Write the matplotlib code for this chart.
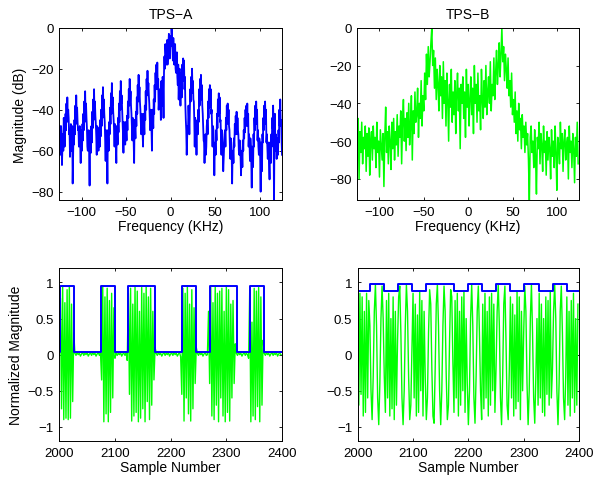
import numpy as np
import matplotlib
matplotlib.use("Agg")
import matplotlib.pyplot as plt

plt.rcParams['font.family'] = ['Liberation Sans', 'DejaVu Sans']

# ---------------- data ----------------
# TPS-A spectrum (dB): values at whole kHz, -125 ... 125
freq_a_start, freq_a_stop = -125, 125
spec_a = [
    -55, -62,
    -48, -67, -52, -44, -58, -42, -37, -34, -40, -52, -63, -47,
    -55, -76, -50, -45, -38, -33, -39, -50, -58, -48,
    -66, -53, -47, -42, -36, -31, -37, -49, -60, -50,
    -77, -55, -48, -41, -35, -30, -36, -47, -62, -49,
    -60, -52, -45, -40, -33, -29, -35, -46, -65, -52,
    -76, -55, -46, -39, -32, -27, -34, -45, -58, -50,
    -66, -51, -44, -37, -31, -26, -33, -44, -61, -48,
    -57, -50, -43, -36, -30, -25, -31, -42, -55, -47,
    -66, -49, -41, -34, -28, -23, -29, -40, -52, -45,
    -58, -46, -38, -31, -25, -21, -27, -37, -50, -42,
    -60, -44, -35, -28, -22, -18, -17, -25, -36, -30,
    -45, -33, -24, -44, -14, -8, -18, -6, -12, -3,
    -15, -4, 0, -10, -5, -18, -8, -22, -12, -28,
    -35, -20, -38, -26, -18, -15, -16, -24, -45, -62,
    -48, -38, -52, -30, -24, -20, -26, -36, -58, -50,
    -62, -45, -40, -30, -25, -23, -28, -42, -55, -66,
    -52, -58, -45, -36, -30, -28, -30, -40, -58, -50,
    -72, -56, -50, -42, -35, -32, -34, -45, -62, -55,
    -70, -58, -50, -44, -38, -37, -40, -50, -64, -56,
    -76, -60, -54, -47, -43, -41, -44, -52, -62, -58,
    -72, -60, -55, -50, -44, -40, -38, -37, -42, -52,
    -65, -58, -78, -62, -52, -44, -38, -36, -40, -50,
    -62, -56, -80, -60, -52, -44, -38, -36, -40, -52,
    -64, -58, -74, -60, -52, -44, -38, -86, -42, -52,
    -64, -56, -50, -40, -35, -45, -62,
]
# TPS-A spectrum (dB): values at half kHz, -124.5 ... 124.5
spec_a_half = [
    -48, -56, -54, -58, -60, -49, -52, -50, -46, -45, -44, -50, -55, -60,
    -48, -62, -57, -52, -47, -44, -46, -49, -54, -57,
    -50, -60, -55, -50, -46, -43, -44, -58, -52, -60,
    -52, -61, -56, -49, -45, -42, -43, -53, -48, -56,
    -49, -58, -53, -48, -44, -40, -42, -55, -50, -60,
    -50, -60, -52, -47, -42, -38, -41, -50, -47, -57,
    -48, -57, -51, -46, -40, -37, -39, -52, -46, -54,
    -46, -55, -50, -44, -38, -36, -38, -48, -44, -57,
    -45, -54, -48, -42, -36, -34, -36, -46, -42, -52,
    -42, -52, -45, -40, -33, -31, -33, -44, -40, -50,
    -40, -49, -42, -36, -30, -27, -30, -40, -36, -34,
    -26, -38, -30, -22, -20, -12, -16, -18, -8, -11,
    -10, -9, -4, -16, -12, -10, -20, -14, -24, -18,
    -26, -30, -22, -34, -26, -24, -30, -38, -50, -54,
    -50, -44, -42, -36, -32, -31, -35, -45, -44, -52,
    -50, -52, -46, -38, -34, -35, -38, -48, -56, -58,
    -62, -48, -52, -44, -39, -38, -42, -50, -48, -58,
    -60, -62, -55, -49, -43, -42, -46, -54, -50, -60,
    -64, -52, -58, -50, -46, -47, -48, -58, -54, -62,
    -62, -66, -58, -52, -50, -52, -50, -60, -55, -64,
    -62, -68, -60, -54, -51, -48, -46, -48, -58, -56,
    -54, -66, -58, -68, -58, -50, -47, -46, -55, -58,
    -54, -64, -56, -70, -56, -50, -46, -47, -56, -58,
    -56, -66, -56, -66, -58, -49, -48, -55, -60, -56,
    -54, -62, -56, -48, -46, -55,
]

# TPS-B spectrum (dB), frequencies -125 ... 124 kHz, 1 kHz step
freq_b_start, freq_b_stop = -125, 124
spec_b = [
    -62, -48, -80, -55, -66, -50, -72, -58, -64, -52,
    -76, -56, -68, -53, -78, -60, -55, -70, -52, -64,
    -58, -74, -50, -66, -60, -79, -54, -62, -70, -56,
    -84, -58, -42, -66, -55, -72, -52, -60, -75, -50,
    -64, -48, -70, -55, -62, -46, -68, -52, -58, -44,
    -72, -50, -38, -60, -48, -65, -45, -58, -40, -62,
    -52, -36, -70, -44, -56, -34, -50, -46, -32, -58,
    -40, -48, -28, -52, -36, -44, -24, -38, -14, -30,
    -10, -26, -18, -8, 0, -20, -12, -32, -16, -38,
    -22, -30, -44, -20, -36, -26, -48, -18, -40, -28,
    -52, -24, -38, -60, -30, -42, -22, -50, -34, -46,
    -28, -56, -36, -24, -44, -32, -64, -30, -40, -26,
    -48, -34, -58, -22, -42, -30, -52, -38, -26, -46,
    -32, -56, -20, -40, -30, -50, -24, -44, -36, -54,
    -22, -38, -48, -28, -42, -20, -46, -34, -26, -40,
    -18, -44, -30, -36, -16, -38, -24, -12, -30, -20,
    -8, -26, -14, 0, -18, -10, -28, -14, -22, -32,
    -16, -36, -28, -42, -24, -46, -38, -50, -34, -56,
    -44, -60, -40, -54, -48, -64, -46, -58, -52, -66,
    -50, -62, -56, -70, -92, -58, -52, -66, -60, -74,
    -54, -68, -88, -58, -64, -50, -72, -56, -62, -76,
    -52, -66, -60, -78, -55, -70, -58, -64, -80, -54,
    -68, -60, -74, -52, -66, -86, -58, -62, -72, -50,
    -64, -56, -76, -60, -54, -70, -62, -58, -80, -52,
    -66, -60, -74, -56, -64, -82, -58, -68, -50, -72,
]

# Time-domain (samples 2000 ... 2398, every 2nd sample)
sample_start, sample_step = 2000, 2
real_a = [
    0.0,
    0.78, -0.75, 0.95, -0.9, 0.72, -0.88, 0.9, -0.9, 0.95, -0.88, 0.7, -0.65, 0.3,
    0.02, -0.01, 0.03, 0.0, 0.02, -0.02, 0.01, 0.03, -0.01, 0.02, 0.0, 0.03,
    -0.02, 0.01, 0.02, -0.01, 0.03, 0.0, 0.02, -0.02, 0.01, 0.03, -0.01, 0.02,
    -0.35, 0.95, -0.93, 0.8, -0.82, 0.92, -0.93, 0.75, -0.8, 0.85, -0.6, 0.65,
    -0.05, 0.03, -0.01, 0.02, 0.0, 0.03, -0.02, 0.01, 0.02, -0.01, 0.03, -0.08,
    0.85, -0.55, 0.92, -0.92, 0.7, -0.85, 0.95, -0.8, 0.88, -0.93, 0.6, -0.88, 0.93,
    -0.75, 0.85, -0.93, 0.95, -0.65, 0.8, -0.9, 0.92, -0.7, 0.6, -0.35, 0.1,
    0.02, -0.01, 0.03, 0.0, 0.02, -0.02, 0.01, 0.03, -0.01, 0.02, 0.0, 0.03,
    -0.02, 0.01, 0.02, -0.01, 0.03, 0.0, 0.02, -0.02, 0.01, 0.03, -0.03,
    -0.55, 0.92, -0.92, 0.85, -0.6, 0.95, -0.82, 0.7, -0.92, 0.9, -0.75, 0.65, -0.4, 0.1,
    0.02, -0.01, 0.03, 0.0, 0.02, -0.02, 0.01, 0.03, -0.01, 0.0,
    0.6, -0.4, 0.93, -0.85, 0.72, -0.9, 0.95, -0.7, 0.85, -0.93, 0.88, -0.6, 0.92,
    -0.85, 0.6, -0.93, 0.95, -0.8, 0.9, -0.92, 0.7, -0.6, 0.75, -0.4, 0.15,
    0.02, -0.01, 0.03, 0.0, 0.02, -0.02, 0.01, 0.03, -0.01, 0.02, 0.0, -0.05,
    0.9, -0.93, 0.45, -0.85, 0.92, -0.9, 0.88, -0.72, 0.93, -0.93, 0.8, -0.7, 0.2,
    0.02, -0.01, 0.03, 0.0, 0.02, -0.02, 0.01, 0.03, -0.01, 0.02, 0.0, 0.03,
    -0.02, 0.01, 0.02, 0.0,
]
real_b = [
    0.7, -0.7, 0.85, -0.55, 0.8, -0.85, 0.6, -0.8, 0.85, -0.6, 0.75,
    0.4, -0.5, -0.9, -0.3, 0.6, 0.97, 0.4, -0.6, -0.97, -0.4, 0.5, 0.95, 0.5, -0.3,
    -0.8, 0.75, -0.6, 0.85, -0.85, 0.5, -0.75, 0.8, -0.9, 0.6, -0.7,
    0.2, 0.8, 0.95, 0.3, -0.6, -0.97, -0.5, 0.4, 0.97, 0.6, -0.3, -0.9, -0.7, 0.1,
    0.85, -0.6, 0.7, -0.85, 0.55, -0.8, 0.88, -0.5, 0.75, -0.85, 0.6,
    -0.3, -0.9, -0.6, 0.3, 0.9, 0.7, -0.2, -0.85, -0.95, -0.2, 0.7, 0.97, 0.4, -0.5,
    -0.97, -0.5, 0.4, 0.95, 0.6, -0.3, -0.9, -0.7, 0.2, 0.9, 0.8, -0.1, -0.8,
    0.75, -0.6, 0.85, -0.85, 0.6, -0.7, 0.8, -0.5, 0.88, -0.8, 0.5,
    -0.4, -0.97, -0.5, 0.5, 0.97, 0.4, -0.6, -0.95, -0.3, 0.6, 0.95, 0.3, -0.5, -0.9,
    0.7, -0.75, 0.85, -0.6, 0.6, -0.85, 0.8, -0.7, 0.85, -0.5, 0.7, -0.8,
    -0.2, 0.6, 0.97, 0.4, -0.6, -0.97, -0.3, 0.7, 0.95, 0.2, -0.7, -0.9, -0.2,
    0.8, -0.6, 0.7, -0.85, 0.55, -0.75, 0.88, -0.65, 0.8, -0.9, 0.6, -0.5,
    0.3, 0.95, 0.6, -0.4, -0.97, -0.5, 0.5, 0.97, 0.3, -0.6, -0.95, -0.3, 0.5,
    -0.7, 0.85, -0.6, 0.7, -0.8, 0.5, -0.85, 0.8, -0.55, 0.75, -0.7, 0.88, -0.6,
    -0.2, 0.6, 0.97, 0.5, -0.5, -0.97, -0.4, 0.6, 0.95, 0.3, -0.6, -0.9, -0.3,
    0.8, -0.7, 0.6, -0.85, 0.75, -0.6, 0.85, -0.8, 0.5, -0.7, 0.7,
]

# Envelope (normalized magnitude) per symbol
sym_start_a, sym_len_a = 1977.65, 24.35
bits_a = [0, 1, 0, 0, 1, 0, 1, 1, 0, 0, 1, 0, 1, 1, 0, 1, 0, 0]
env_levels_a = [0.03, 0.95]
sym_start_b, sym_len_b = 1996.6, 25.4
bits_b = [0, 1, 0, 1, 0, 1, 1, 0, 1, 0, 1, 0, 1, 0, 1, 0]
env_levels_b = [0.88, 0.98]

titles = ["TPS\u2212A", "TPS\u2212B"]

# ---------------- figure ----------------
BLUE = (0, 0, 1)
GREEN = (0, 1, 0)
FS_TICK = 9.5
FS_LAB = 10

fig = plt.figure(figsize=(5.96, 4.81), dpi=100)
ax_tl = fig.add_axes([0.0995, 0.5815, 0.3737, 0.3588])
ax_tr = fig.add_axes([0.5995, 0.5815, 0.3720, 0.3588])
ax_bl = fig.add_axes([0.0995, 0.0805, 0.3737, 0.3602])
ax_br = fig.add_axes([0.6002, 0.0805, 0.3713, 0.3602])


def style(ax):
    ax.tick_params(direction='in', length=2.2, width=0.6, top=True, right=True,
                   labelsize=FS_TICK, pad=4)
    for s in ax.spines.values():
        s.set_linewidth(0.7)


# interleave whole-kHz and half-kHz readings
whole = np.asarray(spec_a, dtype=float)
half = np.asarray(spec_a_half, dtype=float)
spec_a_full = np.empty(whole.size + half.size)
spec_a_full[0::2] = whole
spec_a_full[1::2] = half
fa = freq_a_start + 0.5 * np.arange(spec_a_full.size)
ax_tl.plot(fa, spec_a_full, color=BLUE, lw=1.3)
ax_tl.set_xlim(-125, 125)
ax_tl.set_ylim(-84.2, 0)
ax_tl.set_xticks([-100, -50, 0, 50, 100])
ax_tl.set_yticks([-80, -60, -40, -20, 0])
ax_tl.set_title(titles[0], fontsize=FS_LAB, pad=7)
ax_tl.set_xlabel("Frequency (KHz)", fontsize=FS_LAB, labelpad=1)
ax_tl.set_ylabel("Magnitude (dB)", fontsize=FS_LAB, labelpad=3)
style(ax_tl)

fb = np.arange(freq_b_start, freq_b_stop + 1)
ax_tr.plot(fb, spec_b, color=GREEN, lw=1.1)
ax_tr.set_xlim(-125, 125)
ax_tr.set_ylim(-91.3, 0)
ax_tr.set_xticks([-100, -50, 0, 50, 100])
ax_tr.set_yticks([-80, -60, -40, -20, 0])
ax_tr.set_title(titles[1], fontsize=FS_LAB, pad=7)
ax_tr.set_xlabel("Frequency (KHz)", fontsize=FS_LAB, labelpad=1)
style(ax_tr)


def envelope(start, length, bits, levels):
    edges = start + length * np.arange(len(bits) + 1)
    vals = [levels[b] for b in bits]
    return edges, vals + [vals[-1]]


t_a = sample_start + sample_step * np.arange(len(real_a))
ax_bl.plot(t_a, real_a, color=GREEN, lw=1.0)
ex, ev = envelope(sym_start_a, sym_len_a, bits_a, env_levels_a)
ax_bl.step(ex, ev, where='post', color=BLUE, lw=1.4)
ax_bl.set_xlim(2000, 2400)
ax_bl.set_ylim(-1.2, 1.2)
ax_bl.set_xticks([2000, 2100, 2200, 2300, 2400])
ax_bl.set_yticks([-1, -0.5, 0, 0.5, 1])
ax_bl.set_yticklabels(["\u22121", "\u22120.5", "0", "0.5", "1"])
ax_bl.set_xlabel("Sample Number", fontsize=FS_LAB, labelpad=1)
ax_bl.set_ylabel("Normalized Magnitude", fontsize=FS_LAB, labelpad=3)
style(ax_bl)

t_b = sample_start + sample_step * np.arange(len(real_b))
ax_br.plot(t_b, real_b, color=GREEN, lw=1.0)
ex, ev = envelope(sym_start_b, sym_len_b, bits_b, env_levels_b)
ax_br.step(ex, ev, where='post', color=BLUE, lw=1.4)
ax_br.set_xlim(2000, 2400)
ax_br.set_ylim(-1.2, 1.2)
ax_br.set_xticks([2000, 2100, 2200, 2300, 2400])
ax_br.set_yticks([-1, -0.5, 0, 0.5, 1])
ax_br.set_yticklabels(["\u22121", "\u22120.5", "0", "0.5", "1"])
ax_br.set_xlabel("Sample Number", fontsize=FS_LAB, labelpad=1)
style(ax_br)

fig.savefig("out.png", dpi=100)
